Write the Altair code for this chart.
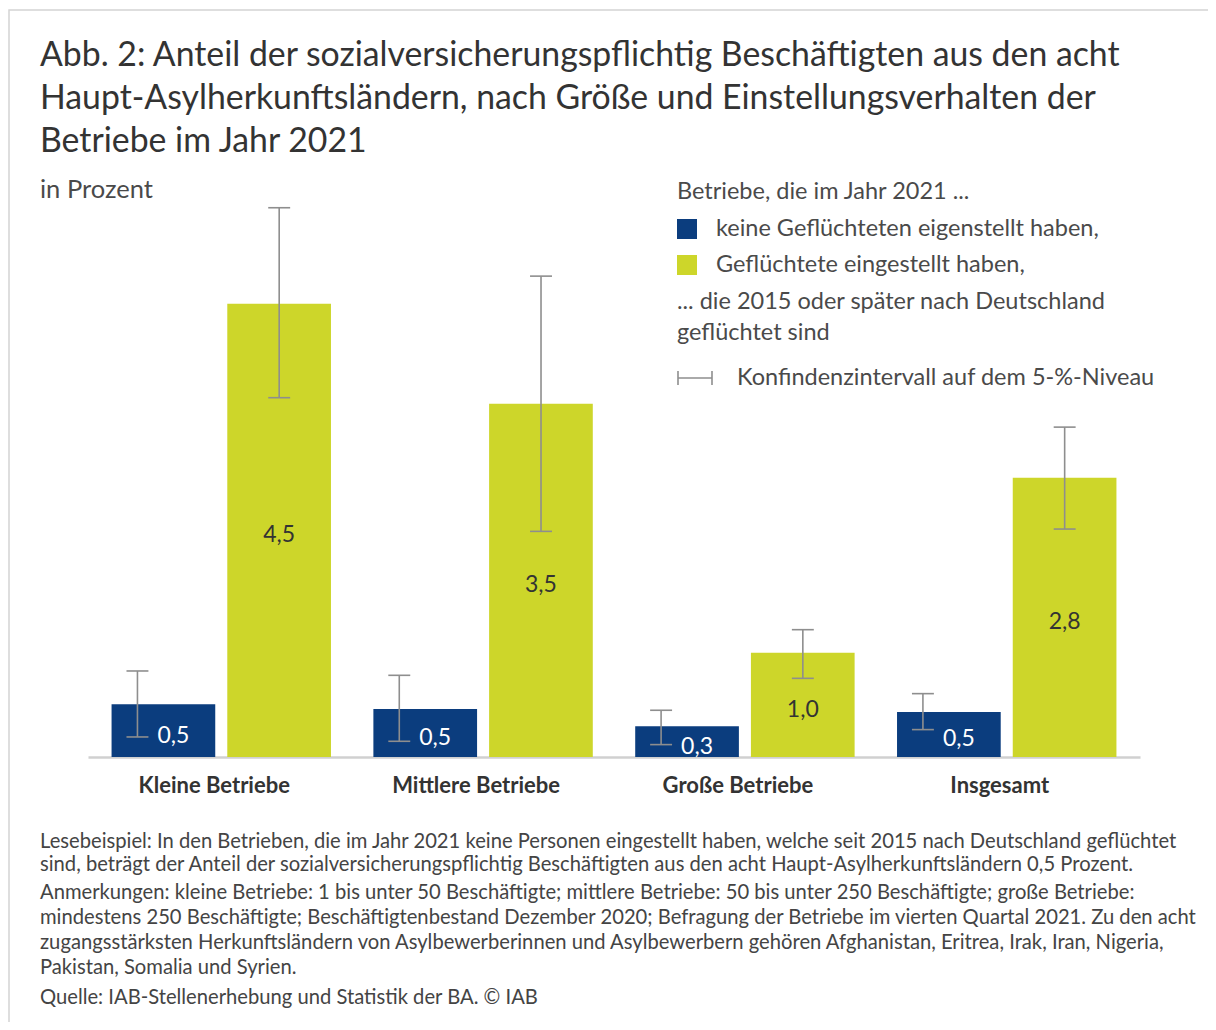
import altair as alt
import pandas as pd

# ---------------- data ----------------
CATEGORIES = ["Kleine Betriebe", "Mittlere Betriebe", "Große Betriebe", "Insgesamt"]
SERIES = ["keine Geflüchteten eigenstellt haben,", "Geflüchtete eingestellt haben,"]

VALUES_NONE = [0.523, 0.476, 0.305, 0.447]
VALUES_HIRED = [4.50, 3.508, 1.036, 2.773]
CI_LOW_NONE = [0.199, 0.156, 0.123, 0.272]
CI_HIGH_NONE = [0.854, 0.811, 0.464, 0.629]
CI_LOW_HIRED = [3.567, 2.240, 0.781, 2.263]
CI_HIGH_HIRED = [5.453, 4.774, 1.264, 3.275]
LABELS_NONE = ["0,5", "0,5", "0,3", "0,5"]
LABELS_HIRED = ["4,5", "3,5", "1,0", "2,8"]

TITLE_LINES = [
    "Abb. 2: Anteil der sozialversicherungspflichtig Beschäftigten aus den acht",
    "Haupt-Asylherkunftsländern, nach Größe und Einstellungsverhalten der",
    "Betriebe im Jahr 2021",
]
UNIT = "in Prozent"
LEGEND_TITLE = "Betriebe, die im Jahr 2021 ..."
LEGEND_NOTE = ["... die 2015 oder später nach Deutschland", "geflüchtet sind"]
CI_LABEL = "Konfindenzintervall auf dem 5-%-Niveau"
NOTE_READING = [
    "Lesebeispiel: In den Betrieben, die im Jahr 2021 keine Personen eingestellt haben, welche seit 2015 nach Deutschland geflüchtet",
    "sind, beträgt der Anteil der sozialversicherungspflichtig Beschäftigten aus den acht Haupt-Asylherkunftsländern 0,5 Prozent.",
]
NOTE_REMARKS = [
    "Anmerkungen: kleine Betriebe: 1 bis unter 50 Beschäftigte; mittlere Betriebe: 50 bis unter 250 Beschäftigte; große Betriebe:",
    "mindestens 250 Beschäftigte; Beschäftigtenbestand Dezember 2020; Befragung der Betriebe im vierten Quartal 2021. Zu den acht",
    "zugangsstärksten Herkunftsländern von Asylbewerberinnen und Asylbewerbern gehören Afghanistan, Eritrea, Irak, Iran, Nigeria,",
    "Pakistan, Somalia und Syrien.",
]
SOURCE = "Quelle: IAB-Stellenerhebung und Statistik der BA. © IAB"

# ---------------- style ----------------
BLUE = "#0b3d7e"
GREEN = "#cdd62a"
ERR = "#8e8e8e"
TXT = "#4a4a4a"
FONT = "Lato"

rows = []
for i, c in enumerate(CATEGORIES):
    rows.append(dict(cat=c, series=SERIES[0], value=VALUES_NONE[i], lo=CI_LOW_NONE[i],
                     hi=CI_HIGH_NONE[i], label=LABELS_NONE[i]))
    rows.append(dict(cat=c, series=SERIES[1], value=VALUES_HIRED[i], lo=CI_LOW_HIRED[i],
                     hi=CI_HIGH_HIRED[i], label=LABELS_HIRED[i]))
df = pd.DataFrame(rows)

YS = alt.Scale(domain=[0, 5.5], nice=False, zero=True)
XS = alt.Scale(paddingInner=0.162, paddingOuter=0.09)
XAXIS = alt.Axis(labelFontSize=22, labelFontWeight="bold", labelColor="#333333",
                 labelFont=FONT, ticks=False, domainColor="#d0d0d0", domainWidth=2.5,
                 labelPadding=18, labelAngle=0, labelOffset=-7)


def xenc(**kw):
    return alt.X("cat:N", sort=CATEGORIES, title=None, scale=XS, axis=XAXIS, **kw)


XO = alt.XOffset("series:N", sort=SERIES, scale=alt.Scale(paddingInner=0.104, paddingOuter=0))

bars = alt.Chart(df).mark_bar().encode(
    x=xenc(), xOffset=XO,
    y=alt.Y("value:Q", scale=YS, axis=None),
    color=alt.Color("series:N", scale=alt.Scale(domain=SERIES, range=[BLUE, GREEN]), legend=None),
)

CAP_HALF = 0.05  # half cap width, as a share of the group band
layers = [bars]
# (series, error bar position inside the group band, label shift, label colour)
for s, band_pos, dx, col in [(SERIES[0], 0.118, 10, "white"), (SERIES[1], 0.764, 0, "#333333")]:
    b = alt.Chart(df).transform_filter(alt.datum.series == s)
    layers.append(b.mark_rule(color=ERR, strokeWidth=1.6).encode(
        x=xenc(bandPosition=band_pos),
        y=alt.Y("lo:Q", scale=YS, axis=None), y2="hi:Q"))
    for fld in ["lo", "hi"]:
        layers.append(b.mark_rule(color=ERR, strokeWidth=1.6).encode(
            x=xenc(bandPosition=band_pos - CAP_HALF),
            x2=alt.X2("cat:N", bandPosition=band_pos + CAP_HALF),
            y=alt.Y(f"{fld}:Q", scale=YS, axis=None)))
    layers.append(b.transform_calculate(mid="datum.value / 2").mark_text(
        dx=dx, dy=5, color=col, fontSize=23, font=FONT, baseline="middle", align="center"
    ).encode(x=xenc(), xOffset=XO, y=alt.Y("mid:Q", scale=YS, axis=None), text="label:N"))


def txt(text, x, y, size, color=TXT, weight="normal", baseline="middle", lh=None):
    kw = dict(align="left", baseline=baseline, fontSize=size, font=FONT, color=color,
              fontWeight=weight)
    if lh is not None:
        kw["lineBreak"] = "\n"
        kw["lineHeight"] = lh
    return alt.Chart(pd.DataFrame({"t": [text]})).mark_text(**kw).encode(
        x=alt.value(x), y=alt.value(y), text="t:N")


one = pd.DataFrame({"a": [0]})
frame = alt.Chart(one).mark_rect(fillOpacity=0, stroke="#d4d4d4", strokeWidth=1.5).encode(
    x=alt.value(-79), x2=alt.value(1300), y=alt.value(-193), y2=alt.value(1000))

LEG = 23.5
annot = [
    txt("\n".join(TITLE_LINES), -48, -164, 33.8, color="#333333", baseline="top", lh=43),
    txt(UNIT, -48, -13, 25.5),
    txt(LEGEND_TITLE, 589, -11, LEG),
    alt.Chart(one).mark_square(size=400, color=BLUE, opacity=1).encode(
        x=alt.value(599), y=alt.value(26)),
    alt.Chart(one).mark_square(size=400, color=GREEN, opacity=1).encode(
        x=alt.value(599), y=alt.value(62)),
    txt(SERIES[0], 628, 26, LEG),
    txt(SERIES[1], 628, 62, LEG),
    txt("\n".join(LEGEND_NOTE), 589, 87, LEG, baseline="top", lh=31),
    alt.Chart(one).mark_rule(color=ERR, strokeWidth=1.6).encode(
        x=alt.value(590), x2=alt.value(624), y=alt.value(175)),
    alt.Chart(one).mark_rule(color=ERR, strokeWidth=1.6).encode(
        x=alt.value(590), y=alt.value(168), y2=alt.value(182)),
    alt.Chart(one).mark_rule(color=ERR, strokeWidth=1.6).encode(
        x=alt.value(624), y=alt.value(168), y2=alt.value(182)),
    txt(CI_LABEL, 649, 175, LEG),
    txt("\n".join(NOTE_READING), -48, 629, 20.2, color="#444444", baseline="top", lh=23),
    txt("\n".join(NOTE_REMARKS), -48, 680, 20.2, color="#444444", baseline="top", lh=25),
    txt(SOURCE, -48, 795, 20.2, color="#444444"),
]

chart = alt.layer(frame, *layers, *annot).properties(
    width=1052, height=554,
    autosize=alt.AutoSizeParams(type="none"),
    padding={"left": 80, "top": 195, "right": 68, "bottom": 265},
).configure(font=FONT).configure_view(strokeWidth=0, stroke="transparent")

chart.save("out.html", embed_options={"renderer": "svg", "actions": False})
